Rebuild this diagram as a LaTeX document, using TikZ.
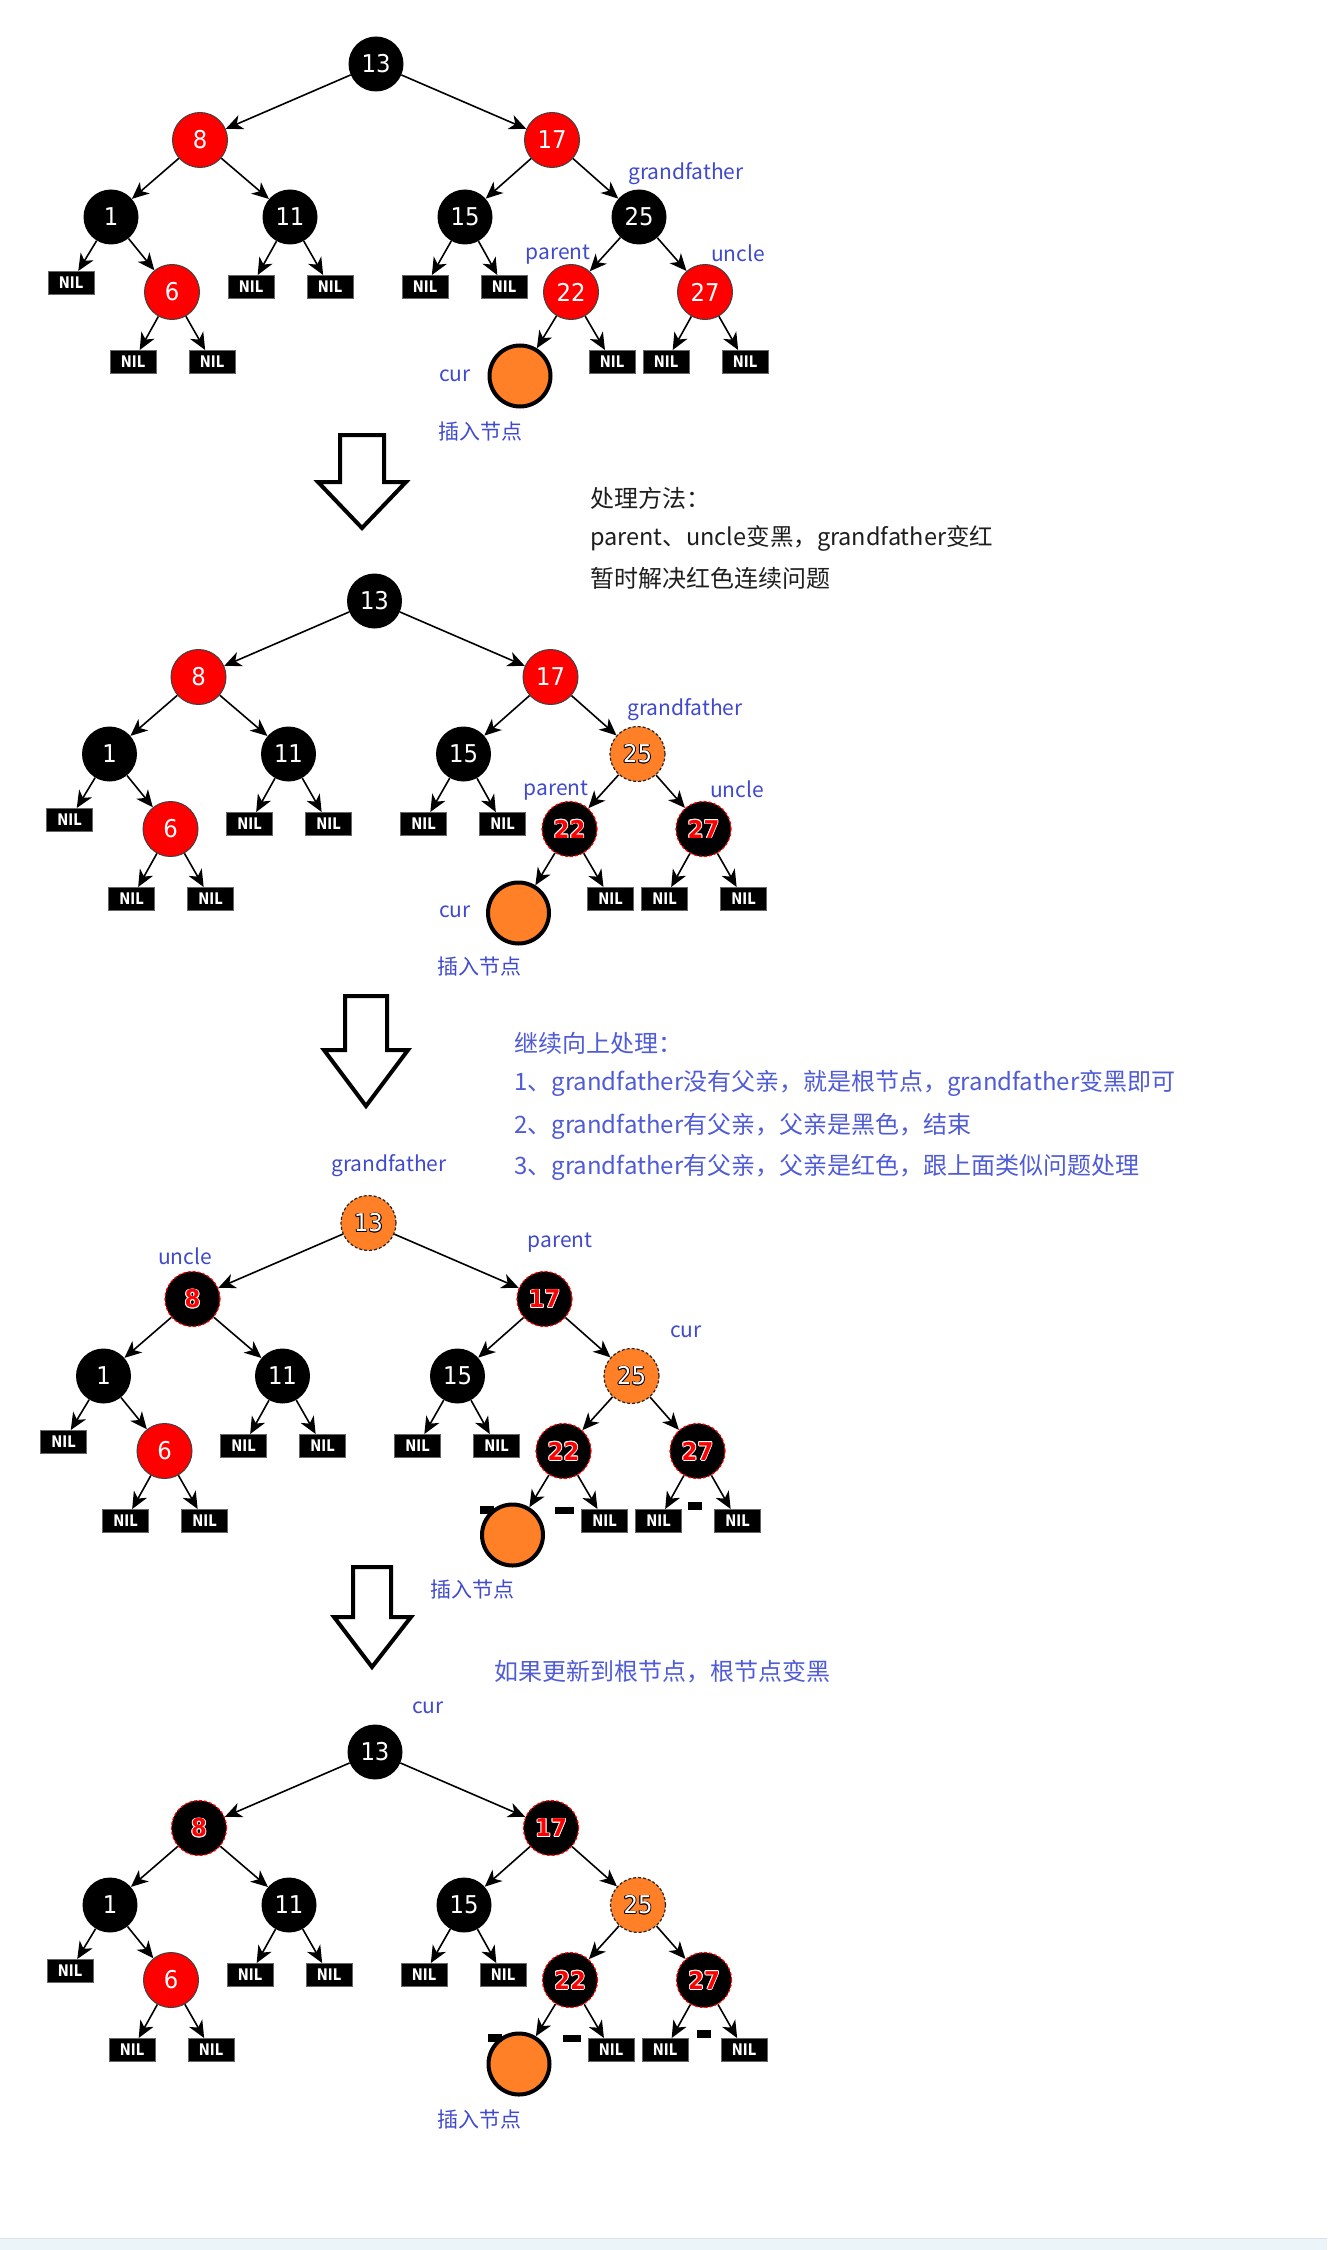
\documentclass[tikz,border=0pt]{standalone}
\usepackage{fontspec}
\setmainfont{Noto Sans CJK SC}
\newfontfamily\numfont[FakeStretch=0.93]{DejaVu Sans}
\newfontfamily\nilfont[FakeStretch=0.82]{DejaVu Sans}
\usetikzlibrary{arrows.meta}
\definecolor{lblue}{RGB}{64,74,206}
\definecolor{tblue}{RGB}{80,92,214}
\definecolor{orng}{RGB}{255,128,38}
\definecolor{tgray}{RGB}{30,30,30}
\definecolor{bandc}{RGB}{235,244,249}
\newcommand\cont[3]{\leavevmode
  \rlap{\hspace*{0.9pt}\textcolor{#1}{#3}}\rlap{\hspace*{-0.9pt}\textcolor{#1}{#3}}%
  \rlap{\raisebox{0.9pt}{\textcolor{#1}{#3}}}\rlap{\raisebox{-0.9pt}{\textcolor{#1}{#3}}}%
  \rlap{\hspace*{0.7pt}\raisebox{0.7pt}{\textcolor{#1}{#3}}}\rlap{\hspace*{-0.7pt}\raisebox{-0.7pt}{\textcolor{#1}{#3}}}%
  \rlap{\hspace*{0.7pt}\raisebox{-0.7pt}{\textcolor{#1}{#3}}}\rlap{\hspace*{-0.7pt}\raisebox{0.7pt}{\textcolor{#1}{#3}}}%
  \textcolor{#2}{#3}}
\newcommand\ntblk[1]{#1}
\newcommand\ntrd[1]{#1}
\newcommand\ntorg[1]{\cont{black}{white}{#1}}
\newcommand\ntbrd[1]{{\bfseries\cont{white}{red}{#1}}}
\newcommand\numtxt[2]{\csname nt#1\endcsname{#2}}
\newcommand\rbtree[8]{%
\begin{scope}[shift={(#2,#3)}]
\node[#4] (#1n13) at (376,64) {\numtxt{#4}{13}};
\node[#5] (#1n8) at (200,140) {\numtxt{#5}{8}};
\node[#6] (#1n17) at (552,140) {\numtxt{#6}{17}};
\node[blk] (#1n1) at (111,217) {1};
\node[blk] (#1n11) at (290,217) {11};
\node[blk] (#1n15) at (465,217) {15};
\node[#7] (#1n25) at (639,217) {\numtxt{#7}{25}};
\node[rd] (#1n6) at (172,292) {6};
\node[#8] (#1n22) at (571,292) {\numtxt{#8}{22}};
\node[#8] (#1n27) at (705,292) {\numtxt{#8}{27}};
\node[nil] (#1l1) at (71,283) {NIL};
\node[nil] (#1l11a) at (251,287) {NIL};
\node[nil] (#1l11b) at (330,287) {NIL};
\node[nil] (#1l15a) at (425,287) {NIL};
\node[nil] (#1l15b) at (504,287) {NIL};
\node[nil] (#1l6a) at (133,362) {NIL};
\node[nil] (#1l6b) at (212,362) {NIL};
\node[nil] (#1l22b) at (612,362) {NIL};
\node[nil] (#1l27a) at (666,362) {NIL};
\node[nil] (#1l27b) at (745,362) {NIL};
\node[curc] (#1cur) at (520,376) {};
\draw[tarrow] (#1n13) -- (#1n8);
\draw[tarrow] (#1n13) -- (#1n17);
\draw[tarrow] (#1n8) -- (#1n1);
\draw[tarrow] (#1n8) -- (#1n11);
\draw[tarrow] (#1n17) -- (#1n15);
\draw[tarrow] (#1n17) -- (#1n25);
\draw[tarrow] (#1n1) -- (#1l1);
\draw[tarrow] (#1n1) -- (#1n6);
\draw[tarrow] (#1n11) -- (#1l11a);
\draw[tarrow] (#1n11) -- (#1l11b);
\draw[tarrow] (#1n15) -- (#1l15a);
\draw[tarrow] (#1n15) -- (#1l15b);
\draw[tarrow] (#1n25) -- (#1n22);
\draw[tarrow] (#1n25) -- (#1n27);
\draw[tarrow] (#1n6) -- (#1l6a);
\draw[tarrow] (#1n6) -- (#1l6b);
\draw[tarrow] (#1n22) -- (#1cur);
\draw[tarrow] (#1n22) -- (#1l22b);
\draw[tarrow] (#1n27) -- (#1l27a);
\draw[tarrow] (#1n27) -- (#1l27b);
\end{scope}}
\begin{document}
\begin{tikzpicture}[x=1pt,y=-1pt,
  rbnode/.style={circle, minimum size=55pt, inner sep=0pt, font=\numfont\fontsize{24.5}{25}\selectfont, text=white},
  blk/.style={rbnode, fill=black},
  rd/.style={rbnode, fill=red, draw=black!75, line width=1pt},
  brd/.style={rbnode, fill=black, draw=red, dash pattern=on 3pt off 2pt, line width=1.2pt},
  org/.style={rbnode, fill=orng, draw=black!85, dash pattern=on 3pt off 2pt, line width=1.2pt},
  nil/.style={rectangle, fill=black, draw=black!60, line width=1pt, minimum width=46pt, minimum height=23pt, inner sep=0pt, text=white, font=\nilfont\bfseries\fontsize{16}{16}\selectfont},
  curc/.style={circle, fill=orng, draw=black, line width=4pt, minimum size=61pt, inner sep=0pt},
  tarrow/.style={-{Stealth[length=17pt,width=15pt,inset=5pt]}, line width=1.6pt},
  lbl/.style={text=lblue, font=\fontsize{21}{21}\selectfont, inner sep=0pt},
  txtb/.style={anchor=west, inner sep=0pt, font=\fontsize{24}{24}\selectfont},
  bigarrow/.style={draw=black, fill=white, line width=4pt, line join=miter}]
\useasboundingbox (0,0) rectangle (1327,2250);
\fill[white] (0,0) rectangle (1327,2250);
% bottom band
\fill[bandc] (0,2239) rectangle (1327,2250);
\draw[black!12, line width=1.5pt] (0,2238.5) -- (1327,2238.5);

% trees
\rbtree{a}{0}{0}{blk}{rd}{rd}{blk}{rd}
\rbtree{b}{-1.5}{537}{blk}{rd}{rd}{org}{brd}
\rbtree{c}{-7.5}{1159}{org}{brd}{brd}{org}{brd}
\rbtree{d}{-1}{1688}{blk}{brd}{brd}{org}{brd}

% small marks near inserted nodes
\fill[black] (480,1506) rectangle (494,1514);
\fill[black] (555,1507) rectangle (574,1514);
\fill[black] (688,1502) rectangle (702,1510);
\fill[black] (488,2034) rectangle (502,2042);
\fill[black] (563,2035) rectangle (581,2042);
\fill[black] (697,2030) rectangle (711,2038);

% labels tree 1
\node[lbl] (a-gf) at (686,174) {grandfather};
\node[lbl] (a-par) at (558,255) {parent};
\node[lbl] (a-unc) at (738,253) {uncle};
\node[lbl] (a-cur) at (455,376) {cur};
\node[lbl] (a-ins) at (480,432) {插入节点};
% labels tree 2
\node[lbl] (b-gf) at (685,710) {grandfather};
\node[lbl] (b-par) at (556,791) {parent};
\node[lbl] (b-unc) at (737,789) {uncle};
\node[lbl] (b-cur) at (455,912) {cur};
\node[lbl] (b-ins) at (479,967) {插入节点};
% labels tree 3
\node[lbl] (c-gf) at (389,1166) {grandfather};
\node[lbl] (c-unc) at (185,1256) {uncle};
\node[lbl] (c-par) at (560,1243) {parent};
\node[lbl] (c-cur) at (686,1332) {cur};
\node[lbl] (c-ins) at (472,1590) {插入节点};
% labels tree 4
\node[lbl] (d-cur) at (428,1708) {cur};
\node[lbl] (d-ins) at (479,2120) {插入节点};

% hollow arrows
\draw[bigarrow] (340,435) -- (384,435) -- (384,482) -- (406,482) -- (362,528) -- (318,482) -- (340,482) -- cycle;
\draw[bigarrow] (345,996) -- (387,996) -- (387,1050) -- (408,1050) -- (366,1106) -- (324,1050) -- (345,1050) -- cycle;
\draw[bigarrow] (353,1567) -- (391,1567) -- (391,1617) -- (411,1617) -- (372,1667) -- (334,1617) -- (353,1617) -- cycle;

% text block 1
\node[txtb, text=tgray] (t1a) at (590,498) {处理方法：};
\node[txtb, text=tgray, font=\fontsize{23.5}{24}\selectfont] (t1b) at (590,538) {parent、uncle变黑，grandfather变红};
\node[txtb, text=tgray] (t1c) at (590,578) {暂时解决红色连续问题};
% text block 2
\node[txtb, text=tblue] (t2a) at (514,1043) {继续向上处理：};
\node[txtb, text=tblue] (t2b) at (514,1083) {1、grandfather没有父亲，就是根节点，grandfather变黑即可};
\node[txtb, text=tblue] (t2c) at (514,1126) {2、grandfather有父亲，父亲是黑色，结束};
\node[txtb, text=tblue] (t2d) at (514,1167) {3、grandfather有父亲，父亲是红色，跟上面类似问题处理};
% text 3
\node[txtb, text=tblue] (t3) at (494,1672) {如果更新到根节点，根节点变黑};
\end{tikzpicture}
\end{document}
